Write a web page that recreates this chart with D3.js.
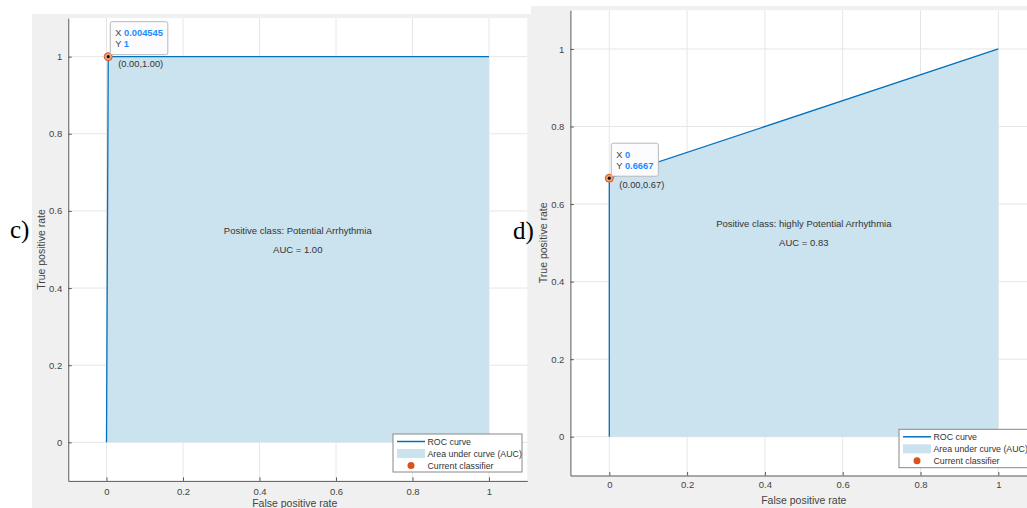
<!DOCTYPE html>
<html><head><meta charset="utf-8">
<script src="https://cdn.jsdelivr.net/npm/d3@7"></script>
<style>body{margin:0;background:#fff}svg{display:block}</style>
</head><body>
<svg id="c" width="1027" height="508" font-family="Liberation Sans, Arial, sans-serif"></svg>
<script>
// ---- data ----
const ticks = [0, 0.2, 0.4, 0.6, 0.8, 1];
const tickLabels = ["0", "0.2", "0.4", "0.6", "0.8", "1"];
const legendLabels = ["ROC curve", "Area under curve (AUC)", "Current classifier"];
const rocC_fpr = [0, 0.004545, 1];
const rocC_tpr = [0, 1, 1];
const rocD_fpr = [0, 0, 1];
const rocD_tpr = [0, 0.6667, 1];
const panelLetters = ["c)", "d)"];
const classNames = ["Positive class: Potential Arrhythmia", "Positive class: highly Potential Arrhythmia"];
const aucValues = ["1.00", "0.83"];
const tipX = ["0.004545", "0"];
const tipY = ["1", "0.6667"];
const tipLabels = ["(0.00,1.00)", "(0.00,0.67)"];
const currentPoint = [[0.004545, 1], [0, 0.6667]];

const svg = d3.select("#c");
svg.append("rect").attr("width",1027).attr("height",508).attr("fill","#fff");

const panels = [
  {bg:[32,14,499,494], xr:[68.25,527.25], yr:[480.9,18.1], fpr:rocC_fpr, tpr:rocC_tpr,
   legend:[393,434,129,38], xpad:7, xlabelY:507, ylabelX:45, letter:[10,238]},
  {bg:[531,6,500,502], xr:[570.4,1037.2], yr:[475.5,10.2], fpr:rocD_fpr, tpr:rocD_tpr,
   legend:[899,429.3,134,38.4], xpad:6, xlabelY:504, ylabelX:547, letter:[513,239]}
];

panels.forEach((p,i)=>{
  const g = svg.append("g");
  g.append("rect").attr("x",p.bg[0]).attr("y",p.bg[1]).attr("width",p.bg[2]).attr("height",p.bg[3]).attr("fill","#f0f0f0");
  const x = d3.scaleLinear().domain([-0.1,1.1]).range(p.xr);
  const y = d3.scaleLinear().domain([-0.1,1.1]).range(p.yr);
  g.append("rect").attr("x",p.xr[0]).attr("y",p.yr[1]).attr("width",p.xr[1]-p.xr[0]).attr("height",p.yr[0]-p.yr[1]).attr("fill","#fff");
  // grid
  g.append("g").selectAll("line").data(ticks).join("line")
    .attr("x1",d=>x(d)).attr("x2",d=>x(d)).attr("y1",p.yr[0]).attr("y2",p.yr[1])
    .attr("stroke","#e6e6e6").attr("stroke-width",1);
  g.append("g").selectAll("line").data(ticks).join("line")
    .attr("y1",d=>y(d)).attr("y2",d=>y(d)).attr("x1",p.xr[0]).attr("x2",p.xr[1])
    .attr("stroke","#e6e6e6").attr("stroke-width",1);
  const pts = p.fpr.map((f,k)=>[f,p.tpr[k]]);
  // area
  g.append("path").datum(pts)
    .attr("d", d3.area().x(d=>x(d[0])).y0(y(0)).y1(d=>y(d[1])))
    .attr("fill","#cbe2ef");
  g.append("path").datum(pts)
    .attr("d", d3.line().x(d=>x(d[0])).y(d=>y(d[1])))
    .attr("fill","none").attr("stroke","#0072BD").attr("stroke-width",1.3);
  // axes
  const xa = d3.axisBottom(x).tickValues(ticks).tickFormat((d,k)=>tickLabels[k]).tickSizeInner(-3.5).tickSizeOuter(0).tickPadding(p.xpad);
  const ya = d3.axisLeft(y).tickValues(ticks).tickFormat((d,k)=>tickLabels[k]).tickSizeInner(-3.5).tickSizeOuter(0).tickPadding(6);
  const gx = g.append("g").attr("transform",`translate(0,${p.yr[0]})`).call(xa);
  const gy = g.append("g").attr("transform",`translate(${p.xr[0]},0)`).call(ya);
  [gx,gy].forEach(a=>{
    a.attr("font-family","Liberation Sans, Arial, sans-serif");
    a.select(".domain").attr("stroke","#5a5a5a");
    a.selectAll(".tick line").attr("stroke","#5a5a5a");
    a.selectAll("text").attr("fill","#444").attr("font-size",9.5);
  });
  // axis labels
  g.append("text").attr("x",(x(-0.1)+x(1.1))/2 - (i==0? 3 : 0)).attr("y",p.xlabelY).attr("text-anchor","middle")
    .attr("font-size",10.5).attr("fill","#444").text("False positive rate");
  g.append("text").attr("transform",`translate(${p.ylabelX},${y(0.5)}) rotate(-90)`).attr("text-anchor","middle")
    .attr("font-size",10.5).attr("fill","#444").text("True positive rate");
  // center texts
  g.append("text").attr("x",x(0.5)).attr("y",y(0.5)-16).attr("text-anchor","middle").attr("font-size",9.5).attr("fill","#333").text(classNames[i]);
  g.append("text").attr("x",x(0.5)).attr("y",y(0.5)+3.5).attr("text-anchor","middle").attr("font-size",9.5).attr("fill","#333").text("AUC = " + aucValues[i]);
  // legend
  const [lx,ly,lw,lh] = p.legend;
  const lg = g.append("g");
  lg.append("rect").attr("x",lx).attr("y",ly).attr("width",lw).attr("height",lh).attr("fill","#fff").attr("stroke","#888").attr("stroke-width",1);
  const rows = [ly+7.5, ly+19.5, ly+31.5];
  lg.append("line").attr("x1",lx+4).attr("x2",lx+32).attr("y1",rows[0]).attr("y2",rows[0]).attr("stroke","#0072BD").attr("stroke-width",1.5);
  lg.append("rect").attr("x",lx+4).attr("y",rows[1]-4.5).attr("width",28).attr("height",9).attr("fill","#cbe2ef");
  lg.append("circle").attr("cx",lx+18).attr("cy",rows[2]).attr("r",3.5).attr("fill","#D95319");
  legendLabels.forEach((t,k)=>{
    lg.append("text").attr("x",lx+34.5).attr("y",rows[k]+3.2).attr("font-size",8.8).attr("fill","#333").text(t);
  });
  // current classifier + datatip
  const cp = currentPoint[i];
  const px = x(cp[0]), py = y(cp[1]);
  g.append("circle").attr("cx",px).attr("cy",py).attr("r",4).attr("fill","#efa57c").attr("stroke","#D95319").attr("stroke-width",1);
  g.append("circle").attr("cx",px).attr("cy",py).attr("r",1.6).attr("fill","#111");
  g.append("text").attr("x",px+10).attr("y",py+10).attr("font-size",9.3).attr("fill","#333").text(tipLabels[i]);
  const tip = g.append("g");
  const box = tip.append("rect").attr("rx",2).attr("fill","#fcfcff").attr("stroke","#b8b8b8").attr("stroke-width",1);
  const t1 = tip.append("text").attr("x",px+7).attr("y",py-20.5).attr("font-size",9.3);
  t1.append("tspan").attr("fill","#444").text("X ");
  t1.append("tspan").attr("fill","#1a8cff").attr("font-weight","bold").text(tipX[i]);
  const t2 = tip.append("text").attr("x",px+7).attr("y",py-9.5).attr("font-size",9.3);
  t2.append("tspan").attr("fill","#444").text("Y ");
  t2.append("tspan").attr("fill","#1a8cff").attr("font-weight","bold").text(tipY[i]);
  const w = Math.max(t1.node().getComputedTextLength(), t2.node().getComputedTextLength());
  box.attr("x",px+2).attr("y",py-35).attr("width",w+10).attr("height",33);
});

// panel letters
panels.forEach((p,i)=>{
  svg.append("text").attr("x",p.letter[0]).attr("y",p.letter[1])
    .attr("font-family","Liberation Serif, Times New Roman, serif").attr("font-size",25).attr("fill","#000").text(panelLetters[i]);
});
</script>
</body></html>
